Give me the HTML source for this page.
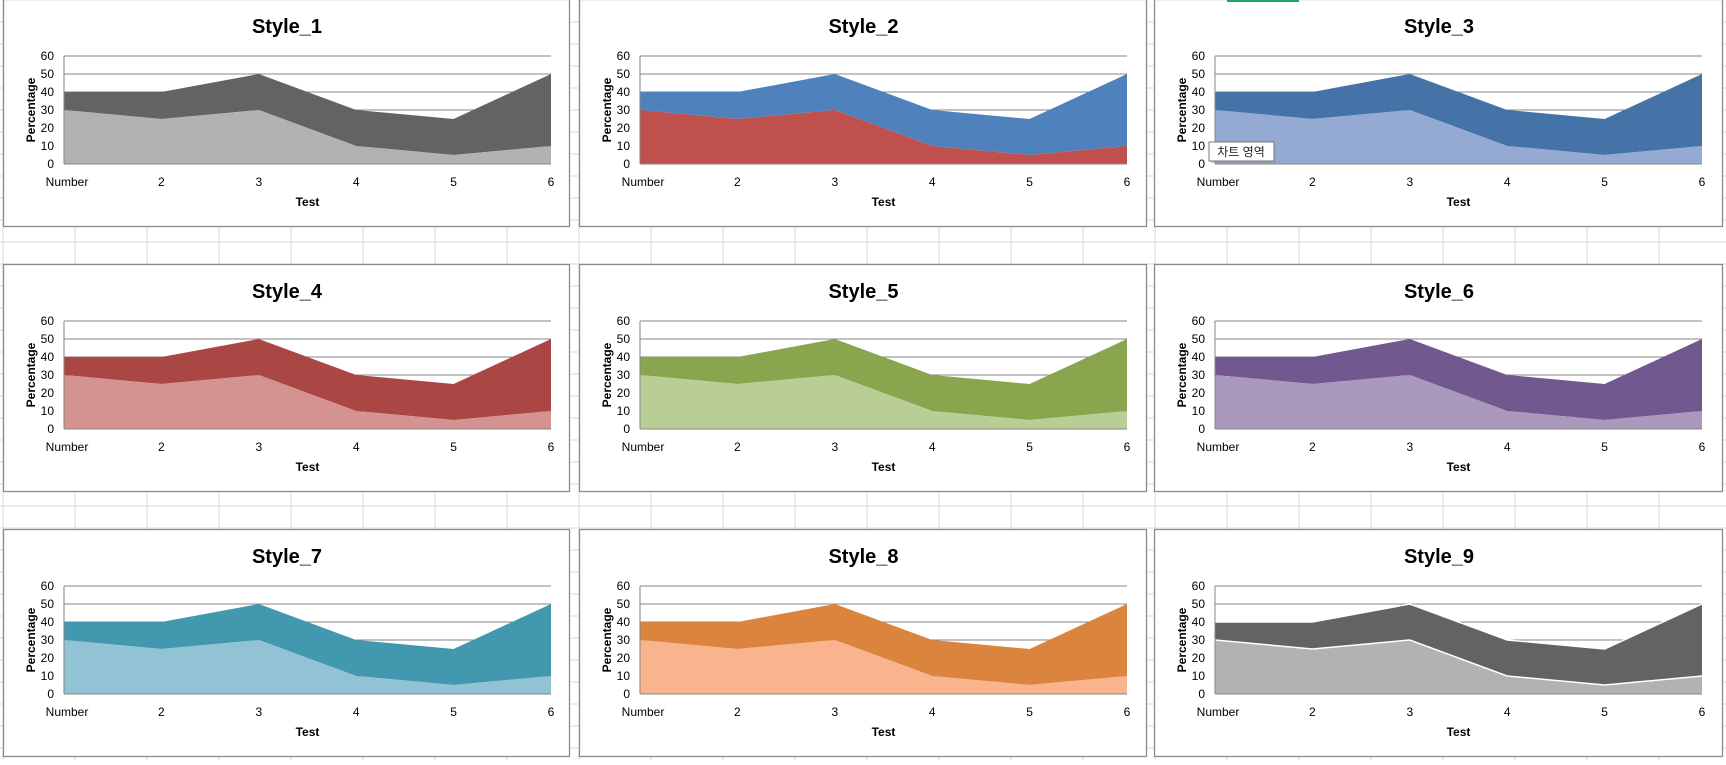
<!DOCTYPE html>
<html><head><meta charset="utf-8">
<style>
body{margin:0;width:1726px;height:760px;overflow:hidden;background:#fff;font-family:"Liberation Sans","Noto Sans CJK KR",sans-serif;}
svg text{font-family:"Liberation Sans","Noto Sans CJK KR",sans-serif;}
</style></head>
<body>
<svg id="root" width="1726" height="760" viewBox="0 0 1726 760" xmlns="http://www.w3.org/2000/svg">
<g id="grid"></g>
<g id="charts"></g>
<rect x="1227" y="0" width="72" height="2" fill="#21a366"/>
<g>
<rect x="1211" y="144" width="65" height="19" fill="#999" opacity="0.5"/>
<rect x="1209" y="142" width="65" height="19" fill="#fff" stroke="#777" stroke-width="1"/>
<text x="1241" y="156" font-size="12" text-anchor="middle" fill="#222">차트 영역</text>
</g>
</svg>
<script>
const categories = ["Number","2","3","4","5","6"];
const seriesBottom = [30,25,30,10,5,10];
const seriesTop = [10,15,20,20,20,40];
const yTicks = [0,10,20,30,40,50,60];
const chartTitles = ["Style_1","Style_2","Style_3","Style_4","Style_5","Style_6","Style_7","Style_8","Style_9"];
const topColors = ["#636363","#4f81bd","#4673a7","#aa4643","#89a54e","#71588f","#4198af","#db843d","#636363"];
const bottomColors = ["#b2b2b2","#c0504d","#94aad2","#d49290","#b8ce95","#a899bd","#92c3d4","#f9b48e","#b2b2b2"];
const NS="http://www.w3.org/2000/svg";
function mk(tag,attrs,parent){const e=document.createElementNS(NS,tag);for(const k in attrs)e.setAttribute(k,attrs[k]);parent.appendChild(e);return e;}
// sheet grid
const grid=document.getElementById('grid');
for(let x=3;x<1726;x+=72){const l=mk('line',{x1:x,y1:0,x2:x,y2:760,stroke:'#dadada','stroke-width':1},grid);}
for(let y=22;y<760;y+=22){const l=mk('line',{x1:0,y1:y,x2:1726,y2:y,stroke:'#dadada','stroke-width':1},grid);}
const cols=[3,579,1154], widths=[566,567,568], rows=[-1,264,529], H=227;
const charts=document.getElementById('charts');
for(let i=0;i<9;i++){
  const cx=cols[i%3], cy=rows[Math.floor(i/3)], W=widths[i%3];
  const g=mk('g',{},charts);
  
  
  const bg=mk('rect',{x:cx+0.5,y:cy+0.5,width:W,height:H,fill:'#fff',stroke:'#8a8a8a','stroke-width':1.3},g);
  
  
  const t=mk('text',{x:cx+W/2+1,y:cy+34,'font-size':20,'font-weight':'bold','text-anchor':'middle',fill:'#000'},g);
  t.textContent=chartTitles[i];
  
  
  const L=cx+61,R=cx+548,T=cy+57,B=cy+165;
  const xs=k=>L+(R-L)*k/(categories.length-1);
  const ys=v=>B-(B-T)*v/60;
  for(const v of yTicks){
    if(v>0){const gl=mk('line',{x1:L,y1:ys(v),x2:R,y2:ys(v),stroke:'#868686','stroke-width':1},g);
      
      }
    const tl=mk('text',{x:L-10,y:ys(v)+4,'font-size':12,'text-anchor':'end',fill:'#000'},g);
    tl.textContent=v;
    
    
  }
  const totals=seriesBottom.map((v,k)=>v+seriesTop[k]);
  let topPts=totals.map((v,k)=>xs(k)+','+ys(v));
  let botPts=seriesBottom.map((v,k)=>xs(k)+','+ys(v));
  const a2=mk('polygon',{points:topPts.join(' ')+' '+botPts.slice().reverse().join(' '),fill:topColors[i]},g);
  
  
  const a1=mk('polygon',{points:botPts.join(' ')+' '+xs(5)+','+B+' '+xs(0)+','+B,fill:bottomColors[i]},g);
  
  
  if(i===8){
    const w1=mk('polyline',{points:botPts.join(' '),fill:'none',stroke:'#fff','stroke-width':1.5},g);
    
    
    const w2=mk('polyline',{points:topPts.join(' '),fill:'none',stroke:'#fff','stroke-width':1.5},g);
    
    
  }
  const ax=mk('line',{x1:L,y1:T,x2:L,y2:B,stroke:'#868686','stroke-width':1},g);
  
  
  const bx=mk('line',{x1:L,y1:B,x2:R,y2:B,stroke:'#868686','stroke-width':1},g);
  
  
  categories.forEach((c,k)=>{
    const cl=mk('text',{x:xs(k)+(k===0?3:0),y:cy+187,'font-size':12,'text-anchor':'middle',fill:'#000'},g);
    cl.textContent=c;
    
    
  });
  const xt=mk('text',{x:(L+R)/2,y:cy+207,'font-size':12,'font-weight':'bold','text-anchor':'middle',fill:'#000'},g);
  xt.textContent='Test';
  
  
  const yt=mk('text',{x:0,y:0,'font-size':12,'font-weight':'bold','text-anchor':'middle',fill:'#000',transform:`translate(${cx+32},${(T+B)/2}) rotate(-90)`},g);
  yt.textContent='Percentage';
  
  
}
</script>
</body></html>
